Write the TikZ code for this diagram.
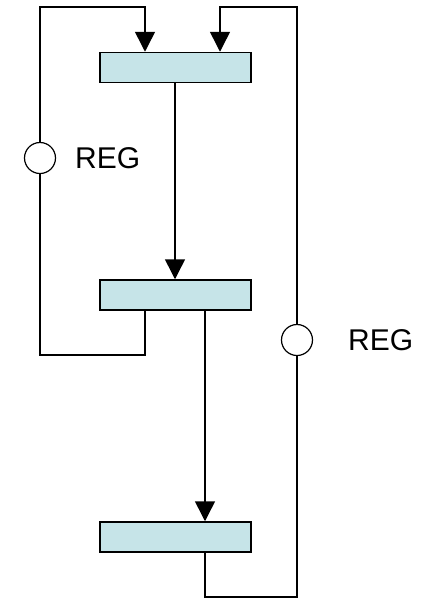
\documentclass[tikz,border=0pt]{standalone}
\usepackage{fontspec}
\setmainfont{Liberation Sans}
\usetikzlibrary{arrows.meta,calc}
\definecolor{BoxFill}{RGB}{198,228,232}

\begin{document}
\begin{tikzpicture}[x=1pt,y=-1pt,
blk/.style={draw,fill=BoxFill,line width=1.5pt,minimum width=151pt,minimum height=30pt,inner sep=0pt},
reg/.style={draw,circle,fill=white,line width=1.2pt,minimum size=31pt,inner sep=0pt},
lbl/.style={anchor=west,inner sep=0pt,font=\fontsize{30}{36}\selectfont},
ln/.style={line width=1.5pt},
arr/.style={ln,-{Triangle[width=20pt,length=20pt]}}
]
\useasboundingbox (0,0) rectangle (424,598);
\node[blk] (b1) at (175.5,67.5) {};
\node[blk] (b2) at (175.5,295) {};
\node[blk] (b3) at (175.5,537) {};
\node[reg] (r1) at (40,158) {};
\node[reg] (r2) at (297,340) {};
\node[lbl] (t1) at (75,158) {REG};
\node[lbl] (t2) at (348,340) {REG};
\coordinate (lt) at (40,7);
\coordinate (lb) at (40,355);
\coordinate (rt) at (297,7);
\coordinate (rb) at (297,597);
\coordinate (xa) at (145,0);
\coordinate (xm) at (175,0);
\coordinate (xb) at (205,0);
\coordinate (xc) at (220,0);
% main flow
\draw[arr] (b1.south -| xm) -- (b2.north -| xm);
\draw[arr] (b2.south -| xb) -- (b3.north -| xb);
% left loop
\draw[ln] (b2.south -| xa) |- (lb) -- (r1);
\draw[arr] (r1) -- (lt) -| (b1.north -| xa);
% right loop
\draw[ln] (b3.south -| xb) |- (rb) -- (r2);
\draw[arr] (r2) -- (rt) -| (b1.north -| xc);
\end{tikzpicture}
\end{document}
